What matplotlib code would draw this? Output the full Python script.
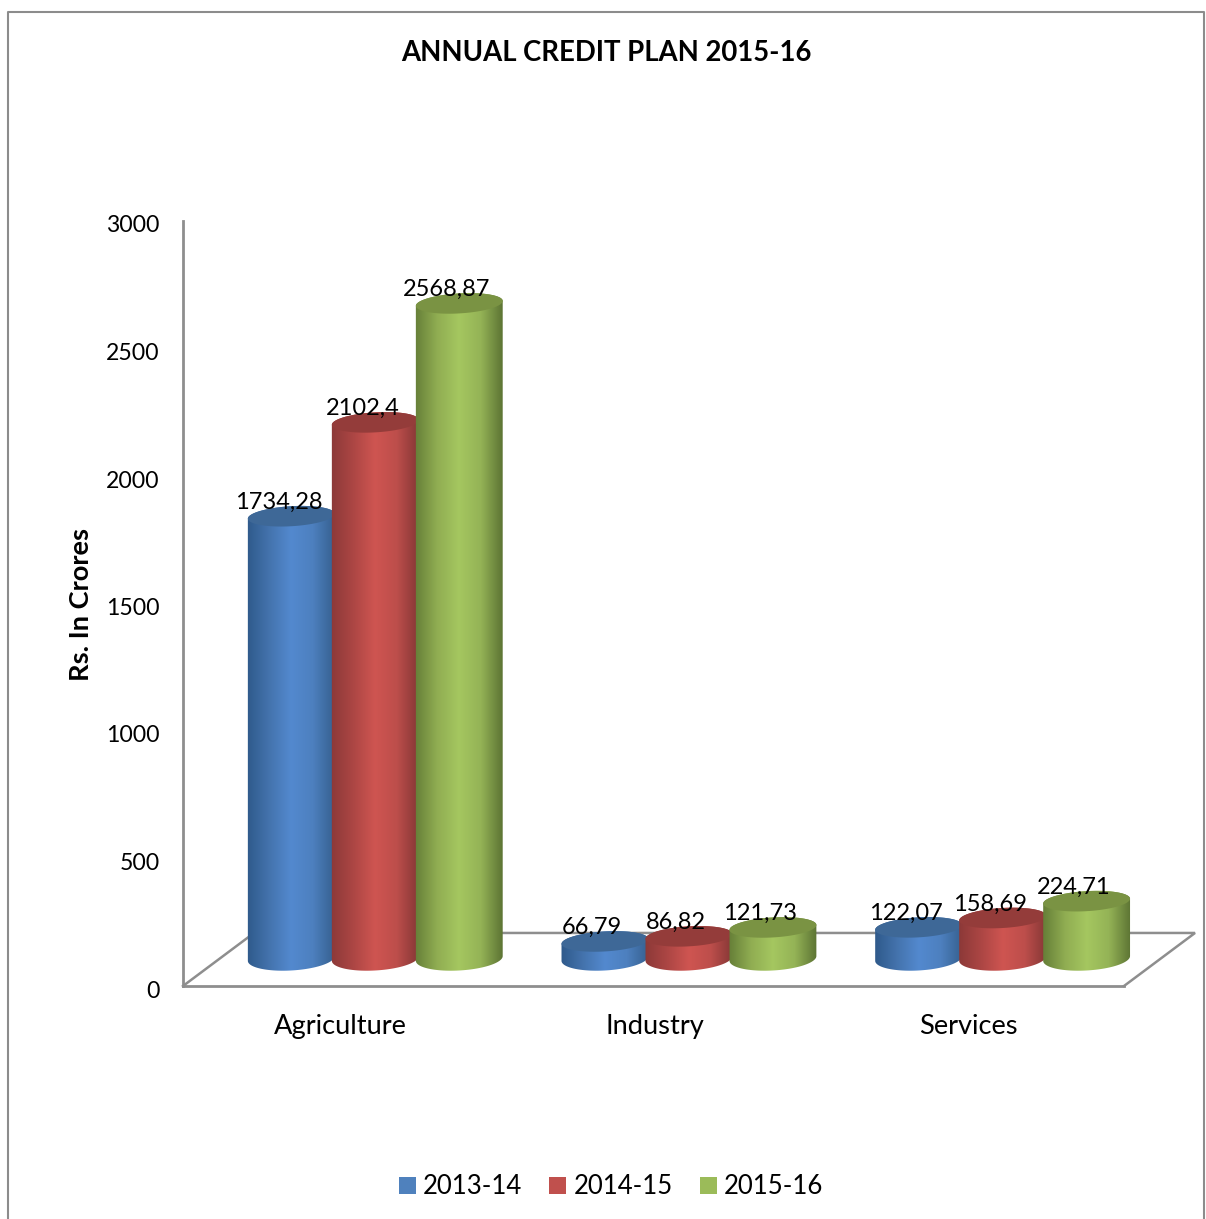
import numpy as np
import matplotlib
matplotlib.use("Agg")
import matplotlib.pyplot as plt
from matplotlib.colors import LinearSegmentedColormap
from matplotlib.lines import Line2D
from matplotlib.patches import Patch, PathPatch, Polygon
from matplotlib.path import Path
from matplotlib.transforms import ScaledTranslation

categories = ["Agriculture", "Industry", "Services"]
series_names = ["2013-14", "2014-15", "2015-16"]
values_2013_14 = [1734.28, 66.79, 122.07]
values_2014_15 = [2102.4, 86.82, 158.69]
values_2015_16 = [2568.87, 121.73, 224.71]
y_ticks = [0, 500, 1000, 1500, 2000, 2500, 3000]

legend_colors = ["#4f81bd", "#c0504d", "#9bbb59"]
top_colors = ["#3e6897", "#943c3a", "#7a9343"]
ramps = [
    ["#2f5a8b", "#4473ad", "#5389cf", "#4d80bf", "#36608f"],
    ["#8c3938", "#ac4644", "#cf5551", "#bd4e4b", "#853736"],
    ["#667f38", "#90ad52", "#a5c760", "#94b356", "#5d7434"],
]

W, H = 1206, 1219
plt.rcParams["font.family"] = ["Lato", "DejaVu Sans"]
fig = plt.figure(figsize=(W / 100, H / 100), dpi=100)
ax = fig.add_axes([183 / W, (H - 986) / H, (1124 - 183) / W, (986 - 221) / H])
ax.set_xlim(0, 3)
ax.set_ylim(0, 3000)
fig.canvas.draw()

GREY = "#8e8e8e"
# outer frame, open at the bottom
fig.add_artist(Line2D([8 / W, 8 / W, 1204 / W, 1204 / W], [0, 1 - 12 / H, 1 - 12 / H, 0],
                      color="#8c8c8c", lw=1.5))

for s in ("top", "right"):
    ax.spines[s].set_visible(False)
for s in ("left", "bottom"):
    ax.spines[s].set_color(GREY)
    ax.spines[s].set_linewidth(2)
ax.patch.set_alpha(0)

# floor in perspective
depth_x, depth_y = 0.2264, 208
ax.plot([0, depth_x, 3 + depth_x, 3], [0, depth_y, depth_y, 0], color=GREY, lw=1.8,
        clip_on=False, zorder=1, solid_joinstyle="miter")

ax.set_xticks([0.5, 1.5, 2.5], categories)
ax.set_yticks(y_ticks, [str(t) for t in y_ticks])
ax.tick_params(length=0, colors="black")
ax.tick_params(axis="y", pad=17, labelsize=16.6)
ax.tick_params(axis="x", pad=20, labelsize=19.6)
shift_down = ScaledTranslation(0, -3 / 100, fig.dpi_scale_trans)
for lab in ax.get_yticklabels():
    lab.set_transform(lab.get_transform() + shift_down)
shift_right = ScaledTranslation(1 / 100, 0, fig.dpi_scale_trans)
for lab in ax.get_xticklabels():
    lab.set_transform(lab.get_transform() + shift_right)

# cylinders
to_px = ax.transData.transform
to_data = ax.transData.inverted().transform
RX, RY_BASE, RY_TOP, TILT = 43.5, 12.0, 10.0, np.radians(3.4)
BASE = 108.0  # floor offset of the front cylinders, in axis units
BAR_STEP = 84 / (941 / 3)
GROUP_SHIFT = 0.113


def ellipse(cx, cy, ry, t):
    px, py = to_px((cx, cy))
    ex, ey = RX * np.cos(t), ry * np.sin(t)
    xs = px + ex * np.cos(TILT) - ey * np.sin(TILT)
    ys = py + ex * np.sin(TILT) + ey * np.cos(TILT)
    return to_data(np.column_stack([xs, ys]))


all_series = [values_2013_14, values_2014_15, values_2015_16]
z = 3
for g in range(len(categories)):
    for j, vals in enumerate(all_series):
        v = vals[g]
        xc = g + 0.5 + GROUP_SHIFT + (j - 1) * BAR_STEP
        top = v + BASE
        low = ellipse(xc, BASE, RY_BASE, np.linspace(np.pi, 2 * np.pi, 60))
        up = ellipse(xc, top, RY_TOP, np.linspace(0, np.pi, 60))
        verts = np.vstack([low, up, low[:1]])
        clip = PathPatch(Path(verts), transform=ax.transData, fc="none", ec="none", clip_on=False)
        ax.add_patch(clip)
        cmap = LinearSegmentedColormap.from_list(f"r{j}", ramps[j])
        dx = RX / (941 / 3) * 1.01
        im = ax.imshow(np.linspace(0, 1, 128)[None, :], cmap=cmap, aspect="auto",
                       extent=(xc - dx, xc + dx, BASE - 60, top + 60),
                       zorder=z, interpolation="bilinear")
        im.set_clip_box(fig.bbox)
        im.set_clip_path(clip)
        ax.add_patch(Polygon(ellipse(xc, top, RY_TOP, np.linspace(0, 2 * np.pi, 120)),
                             closed=True, fc=top_colors[j], ec="none", zorder=z + 0.1,
                             clip_on=False))
        ax.annotate(str(v).replace(".", ","), (xc, top), xytext=(-13, 14),
                    textcoords="offset pixels", ha="center", va="center",
                    fontsize=17, zorder=20, annotation_clip=False)
        z += 1
ax.set_xlim(0, 3)
ax.set_ylim(0, 3000)

fig.text(606 / W, 1 - 53 / H, "ANNUAL CREDIT PLAN 2015-16", ha="center", va="center",
         fontsize=19.85, fontweight="bold")
fig.text(81 / W, 1 - 604 / H, "Rs. In Crores", rotation=90, ha="center", va="center",
         fontsize=19.6, fontweight="bold")

handles = [Patch(fc=c, ec="none", label=n) for c, n in zip(legend_colors, series_names)]
fig.legend(handles=handles, ncol=3, loc="center", bbox_to_anchor=(611 / W, 1 - 1187 / H),
           frameon=False, fontsize=18.5, handlelength=0.66, handleheight=0.66,
           handletextpad=0.27, columnspacing=1.07, borderpad=0, borderaxespad=0)

fig.savefig("out.png", dpi=100)
